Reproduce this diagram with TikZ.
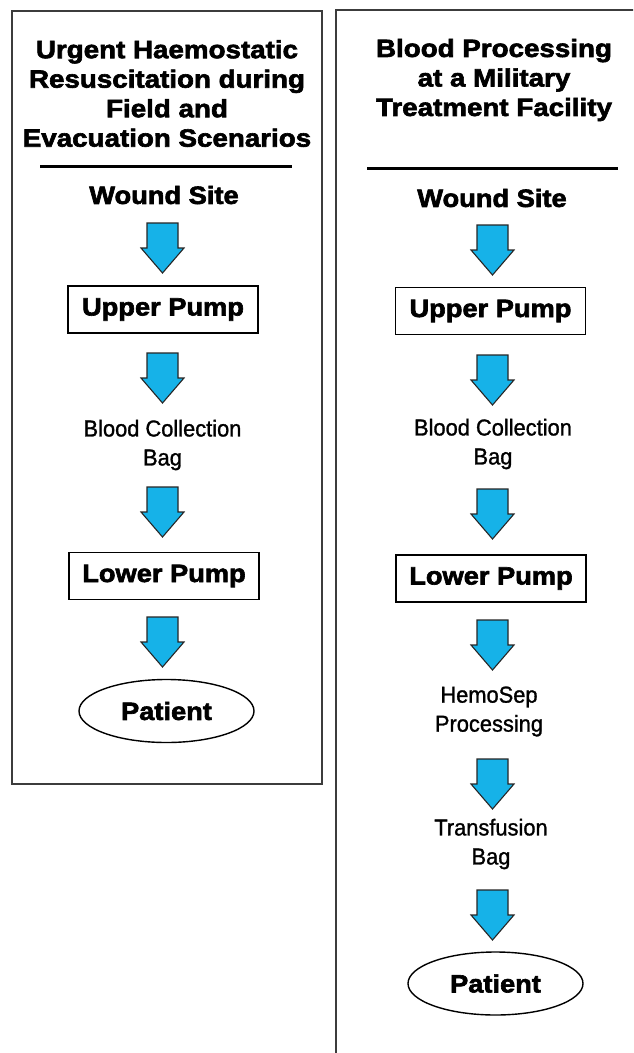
\documentclass[tikz,border=0pt]{standalone}
\usepackage{fontspec}
\setmainfont{Liberation Sans}
\newfontfamily\hvt{Liberation Sans}[FakeStretch=1.11,FakeBold=2.5]
\newfontfamily\hvb{Liberation Sans}[FakeStretch=1.09,FakeBold=2.5]
\newfontfamily\hvr{Liberation Sans}[FakeStretch=0.95,FakeBold=1.2]
\usetikzlibrary{shapes.geometric}
\definecolor{arrowblue}{RGB}{22,178,232}
\definecolor{framegray}{RGB}{60,60,60}
\tikzset{
  frame/.style={draw=framegray,line width=1.8pt},
  rulel/.style={line width=3pt},
  titletxt/.style={align=center,font=\hvt\bfseries\fontsize{25}{29.5}\selectfont,inner sep=0pt},
  boldtxt/.style={align=center,font=\hvb\bfseries\fontsize{25}{28}\selectfont,inner sep=0pt},
  plaintxt/.style={align=center,font=\hvr\fontsize{23}{29}\selectfont,inner sep=0pt},
  pumpbox/.style={draw,line width=1.4pt,minimum width=190pt,minimum height=47pt,inner sep=0pt,font=\hvb\bfseries\fontsize{25}{28}\selectfont},
  patient/.style={draw,ellipse,line width=1.4pt,minimum width=175pt,minimum height=63pt,inner sep=0pt,font=\hvb\bfseries\fontsize{25}{28}\selectfont},
  blockarr/.pic={\draw[fill=arrowblue,draw=black!85,line width=1.1pt,line join=miter]
     (-15.5,0) -- (15.5,0) -- (15.5,25) -- (21.5,25) -- (0,50) -- (-21.5,25) -- (-15.5,25) -- cycle;}
}
\begin{document}
\begin{tikzpicture}[x=1pt,y=-1pt]
\useasboundingbox (0,0) rectangle (633,1053);
\clip (0,0) rectangle (633,1053);
\fill[white] (0,0) rectangle (633,1053);
% frames
\draw[frame] (12,11) rectangle (322,784);
\draw[frame] (336,1060) -- (336,10) -- (640,10);
% left column
\node[titletxt] (t1) at (167,93.5) {Urgent Haemostatic\\Resuscitation during\\Field and\\Evacuation Scenarios};
\coordinate (r1a) at (40,166);
\coordinate (r1b) at (292,166);
\draw[rulel] (r1a) -- (r1b);
\node[boldtxt] (ws1) at (164,195) {Wound Site};
\node[pumpbox] (up1) at (163,309.5) {Upper Pump};
\node[plaintxt] (bc1) at (162.5,445) {Blood Collection\\Bag};
\node[pumpbox] (lp1) at (164,576) {Lower Pump};
\node[patient] (pt1) at (166.5,711) {Patient};
\pic (a11) at (162.5,223) {blockarr};
\pic (a12) at (162.5,353) {blockarr};
\pic (a13) at (162.5,487) {blockarr};
\pic (a14) at (162.5,617) {blockarr};
% right column
\node[titletxt] (t2) at (494,80) {Blood Processing\\at a Military\\Treatment Facility};
\coordinate (r2a) at (367,168);
\coordinate (r2b) at (618,168);
\draw[rulel] (r2a) -- (r2b);
\node[boldtxt] (ws2) at (492,198) {Wound Site};
\node[pumpbox] (up2) at (490.5,311) {Upper Pump};
\node[plaintxt] (bc2) at (493,444) {Blood Collection\\Bag};
\node[pumpbox] (lp2) at (491,578.5) {Lower Pump};
\node[plaintxt] (hs2) at (489,711.5) {HemoSep\\Processing};
\node[plaintxt] (tb2) at (491,844) {Transfusion\\Bag};
\node[patient] (pt2) at (495.5,983.5) {Patient};
\pic (a21) at (492.5,225) {blockarr};
\pic (a22) at (492.5,355) {blockarr};
\pic (a23) at (492.5,489) {blockarr};
\pic (a24) at (492.5,620) {blockarr};
\pic (a25) at (492.5,759) {blockarr};
\pic (a26) at (492.5,890) {blockarr};
\end{tikzpicture}
\end{document}
